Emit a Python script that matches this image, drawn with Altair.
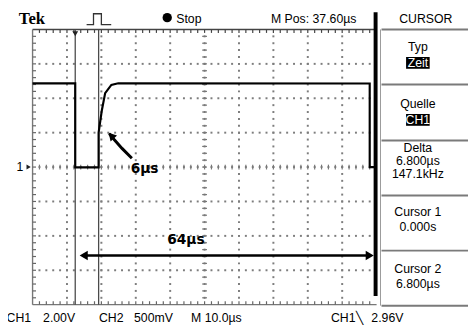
import altair as alt
import pandas as pd

# ---------------- scope settings ----------------
M_POS = 37.6     # µs at screen centre
T_DIV = 10.0     # µs / div
V_DIV = 2.0      # V / div
T_LEFT = M_POS - 5 * T_DIV    # -12.4
T_RIGHT = M_POS + 5 * T_DIV   # 87.6
V_TOP, V_BOT = 4 * V_DIV, -4 * V_DIV

# ---------------- CH1 trace ----------------
trace_t = [-12.4, 0.0, 0.0, 6.8, 6.8, 7.7, 8.7, 10.5, 12.5, 85.6, 85.6, 87.0]
trace_v = [4.87, 4.87, -0.02, -0.02, 2.0, 3.26, 4.3, 4.78, 4.87, 4.86, 0.0, 0.0]

# cursors
cursor_t = [0.0, 6.8]

# readout texts
top_texts = ["Stop", "M Pos: 37.60µs", "CURSOR"]
bottom_texts = ["CH1", "2.00V", "CH2", "500mV", "M 10.0µs", "CH1", "╲", "2.96V"]
panel_texts = ["Typ", "Quelle", "Delta", "6.800µs", "147.1kHz", "Cursor 1", "0.000s", "Cursor 2", "6.800µs"]
panel_inv = ["Zeit", "CH1"]
annot = ["6µs", "64µs"]

# ---------------- layout (in screen units: µs / V) ----------------
XS = alt.Scale(domain=[-19.543, 114.171], nice=False, zero=False)
YS = alt.Scale(domain=[-9.543, 9.0857], nice=False, zero=False)

def X(f="t"):
    return alt.X(f"{f}:Q", scale=XS, axis=None)

def Y(f="v"):
    return alt.Y(f"{f}:Q", scale=YS, axis=None)

NARROW = "Liberation Sans Narrow, Arial Narrow, Liberation Sans, sans-serif"
TK_T = 1.0     # tick length in µs units (~3.5px)
TK_V = 0.2     # tick length in V units (~3.5px)

layers = []

# dotted graticule (dots at every minor division)
dots = []
for k in range(1, 10):
    t = T_LEFT + k * T_DIV
    for j in range(1, 40):
        dots.append((t, V_BOT + j * V_DIV / 5))
for k in range(1, 8):
    v = V_BOT + k * V_DIV
    for j in range(1, 50):
        dots.append((T_LEFT + j * T_DIV / 5, v))
gd = pd.DataFrame(dots, columns=["t", "v"])
layers.append(alt.Chart(gd).mark_square(size=4, color="#7d7d7d", opacity=1)
              .encode(x=X(), y=Y()))

# borders
border = pd.DataFrame({"t": [T_LEFT, T_LEFT, T_LEFT], "t2": [T_RIGHT, T_LEFT, T_RIGHT],
                       "v": [V_TOP, V_TOP, V_BOT], "v2": [V_TOP, V_BOT, V_BOT],
                       "c": ["#444444", "#777777", "#777777"]})
layers.append(alt.Chart(border).mark_rule(strokeWidth=1.4)
              .encode(x=X(), x2="t2", y=Y(), y2="v2", color=alt.Color("c:N", scale=None)))

# minor ticks (5 per division) as short rules
ht = [T_LEFT + k * T_DIV / 5 for k in range(1, 50)]
vt = [V_BOT + k * V_DIV / 5 for k in range(1, 40)]
rows = []
for t in ht:
    rows.append((t, t, V_TOP, V_TOP - TK_V, "#444444"))
    rows.append((t, t, V_BOT, V_BOT + TK_V, "#666666"))
    rows.append((t, t, TK_V * 0.7, -TK_V * 0.7, "#777777"))
for v in vt:
    rows.append((T_LEFT, T_LEFT + TK_T, v, v, "#666666"))
    rows.append((M_POS - TK_T * 0.7, M_POS + TK_T * 0.7, v, v, "#777777"))
ticks = pd.DataFrame(rows, columns=["t", "t2", "v", "v2", "c"])
layers.append(alt.Chart(ticks).mark_rule(strokeWidth=1.2)
              .encode(x=X(), x2="t2", y=Y(), y2="v2", color=alt.Color("c:N", scale=None)))

# cursors
cur = pd.DataFrame({"t": cursor_t, "v": [V_TOP] * 2, "v2": [V_BOT] * 2})
layers.append(alt.Chart(cur).mark_rule(color="#4a4a4a", strokeWidth=1.3)
              .encode(x=X(), y=Y(), y2="v2"))

# trace
tr = pd.DataFrame({"t": trace_t, "v": trace_v, "i": range(len(trace_t))})
layers.append(alt.Chart(tr).mark_line(color="black", strokeWidth=2.2)
              .encode(x=X(), y=Y(), order="i:Q"))

# thick separator bar and menu boxes
bar = pd.DataFrame({"t": [87.31], "v": [9.0], "v2": [-7.49]})
layers.append(alt.Chart(bar).mark_rule(color="black", strokeWidth=4)
              .encode(x=X(), y=Y(), y2="v2"))
box_h = pd.DataFrame({"v": [8.0, 4.8, 1.543, -1.657, -4.857, -8.057]})
box_h["t"] = 89.03
box_h["t2"] = 114.17
layers.append(alt.Chart(box_h).mark_rule(color="#7a7a7a", strokeWidth=2)
              .encode(x=X(), x2="t2", y=Y()))
box_v = pd.DataFrame({"t": [88.74], "v": [8.0], "v2": [-8.057]})
layers.append(alt.Chart(box_v).mark_rule(color="#9a9a9a", strokeWidth=1)
              .encode(x=X(), y=Y(), y2="v2"))

# inverted label boxes
inv = pd.DataFrame({"t": [96.17, 96.17], "t2": [103.03, 103.03],
                    "v": [6.4, 3.086], "v2": [5.714, 2.4]})
layers.append(alt.Chart(inv).mark_rect(color="black")
              .encode(x=X(), x2="t2", y=Y(), y2="v2"))

# trigger pulse icon
pulse = pd.DataFrame({"t": [3.31, 5.31, 5.31, 7.6, 7.6, 10.46],
                      "v": [8.286, 8.286, 8.914, 8.914, 8.286, 8.286], "i": range(6)})
layers.append(alt.Chart(pulse).mark_line(color="#333333", strokeWidth=1.3)
              .encode(x=X(), y=Y(), order="i:Q"))

# markers: stop dot, trigger position, ground marker
pts = pd.DataFrame({"t": [26.74], "v": [8.686]})
layers.append(alt.Chart(pts).mark_point(shape="circle", filled=True, size=90, color="black", opacity=1)
              .encode(x=X(), y=Y()))
trig = pd.DataFrame({"t": [0.0], "v": [7.75]})
layers.append(alt.Chart(trig).mark_point(shape="triangle-down", filled=True, size=35, color="#222", opacity=1)
              .encode(x=X(), y=Y()))
gnd = pd.DataFrame({"t": [-13.54], "v": [0.0]})
layers.append(alt.Chart(gnd).mark_point(shape="triangle-right", filled=True, size=25, color="#222", opacity=1)
              .encode(x=X(), y=Y()))

# annotation arrows
a6 = pd.DataFrame({"t": [16.46, 13.6, 11.31, 9.89], "v": [0.514, 1.086, 1.6, 1.943], "i": range(4)})
layers.append(alt.Chart(a6).mark_line(color="black", strokeWidth=3)
              .encode(x=X(), y=Y(), order="i:Q"))
a6h = pd.DataFrame({"t": [10.46], "v": [1.829]})
layers.append(alt.Chart(a6h).mark_point(shape="triangle-up", angle=317, filled=True, size=80,
                                        color="black", opacity=1)
              .encode(x=X(), y=Y()))
a64 = pd.DataFrame({"t": [2.0], "t2": [86.0], "v": [-5.143]})
layers.append(alt.Chart(a64).mark_rule(color="black", strokeWidth=2.5)
              .encode(x=X(), x2="t2", y=Y()))
a64h = pd.DataFrame({"t": [2.46], "v": [-5.143]})
layers.append(alt.Chart(a64h).mark_point(shape="triangle-left", filled=True, size=90, color="black", opacity=1)
              .encode(x=X(), y=Y()))
a64h2 = pd.DataFrame({"t": [85.6], "v": [-5.143]})
layers.append(alt.Chart(a64h2).mark_point(shape="triangle-right", filled=True, size=90, color="black", opacity=1)
              .encode(x=X(), y=Y()))

# texts
tek = pd.DataFrame({"t": [-16.4], "v": [8.3], "txt": ["Tek"]})
layers.append(alt.Chart(tek).mark_text(font="Liberation Serif", fontWeight="bold", fontSize=17,
                                       align="left", baseline="alphabetic", color="black")
              .encode(x=X(), y=Y(), text="txt:N"))

txt_rows = []
for s, t in zip(top_texts, [33.03, 69.31, 101.89]):
    txt_rows.append((t, 8.6, s, "black"))
for s, t in zip(bottom_texts, [-16.4, -4.69, 10.46, 22.74, 41.03, 77.89, 82.74, 90.74]):
    txt_rows.append((t, -8.8, s, "black"))
for s, v in zip(panel_texts, [6.971, 3.657, 1.086, 0.343, -0.4, -2.629, -3.486, -5.943, -6.8]):
    txt_rows.append((99.6, v, s, "black"))
for s, v in zip(panel_inv, [6.057, 2.743]):
    txt_rows.append((99.6, v, s, "white"))
txt_rows.append((-16.11, 0.0, "1", "black"))
tx = pd.DataFrame(txt_rows, columns=["t", "v", "txt", "col"])
layers.append(alt.Chart(tx).mark_text(font=NARROW, fontSize=12.5, align="center", baseline="middle")
              .encode(x=X(), y=Y(), text="txt:N", color=alt.Color("col:N", scale=None)))

an = pd.DataFrame({"t": [20.17, 32.17], "v": [-0.114, -4.229], "txt": annot})
layers.append(alt.Chart(an).mark_text(font="DejaVu Sans", fontWeight="bold", fontSize=14,
                                      align="center", baseline="middle", color="black")
              .encode(x=X(), y=Y(), text="txt:N"))

chart = alt.layer(*layers).properties(
    width=468, height=326, padding=0, autosize=alt.AutoSizeParams(type="none"),
    background="white"
).configure_view(stroke=None)

chart.save("out.html", embed_options={"renderer": "svg", "actions": False})
